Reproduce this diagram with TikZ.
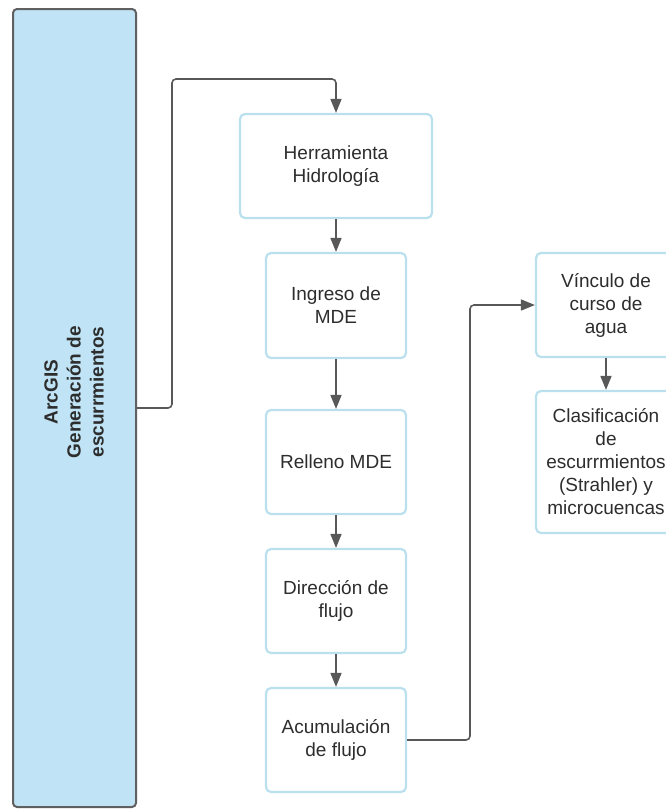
\documentclass[tikz,border=0pt]{standalone}
\usepackage{fontspec}
\setmainfont{Liberation Sans}
\usetikzlibrary{arrows.meta}
\definecolor{lblue}{RGB}{192,228,245}
\definecolor{lborder}{RGB}{96,96,96}
\definecolor{bborder}{RGB}{186,224,237}
\definecolor{arrcol}{RGB}{88,88,88}
\definecolor{txt}{RGB}{45,45,45}
\tikzset{
  stepbox/.style={draw=bborder, line width=2.2pt, fill=white, rounded corners=5pt,
    minimum width=140pt, minimum height=104pt, inner sep=0pt, align=center,
    text=txt, font=\fontsize{19}{23}\selectfont},
  mainbox/.style={draw=lborder, line width=2pt, fill=lblue, rounded corners=4pt,
    minimum width=123pt, minimum height=798pt, inner sep=0pt},
  conn/.style={draw=arrcol, line width=1.6pt, rounded corners=4pt,
    -{Triangle[length=14pt,width=11pt]}},
}
\begin{document}
\begin{tikzpicture}[x=1pt,y=-1pt]
\useasboundingbox (0,0) rectangle (666,809);
\clip (0,0) rectangle (666,809);
\node[mainbox] (L) at (74.5,408) {};
\node[rotate=90, align=center, text=txt, font=\bfseries\fontsize{19}{23}\selectfont] (Lt) at (74,392) {ArcGIS\\Generación de\\escurrmientos};
\node[stepbox, minimum width=192pt] (H) at (336,166) {Herramienta\\Hidrología};
\node[stepbox, minimum height=105pt] (I) at (336,305.5) {Ingreso de\\MDE};
\node[stepbox] (R) at (336,462) {Relleno MDE};
\node[stepbox] (D) at (336,601) {Dirección de\\flujo};
\node[stepbox] (A) at (336,740) {Acumulación\\de flujo};
\node[stepbox] (V) at (606,305) {Vínculo de\\curso de\\agua};
\node[stepbox, minimum height=142pt] (C) at (606,462) {Clasificación\\de\\escurrmientos\\(Strahler) y\\microcuencas};
\coordinate (b1) at (172,79);
\coordinate (b2) at (470,740);
\draw[conn] (L.east) -| (b1) -| (H.north);
\draw[conn] (H) -- (I);
\draw[conn] (I) -- (R);
\draw[conn] (R) -- (D);
\draw[conn] (D) -- (A);
\draw[conn] (A.east) -- (b2) |- (V.west);
\draw[conn] (V) -- (C);
\end{tikzpicture}
\end{document}
